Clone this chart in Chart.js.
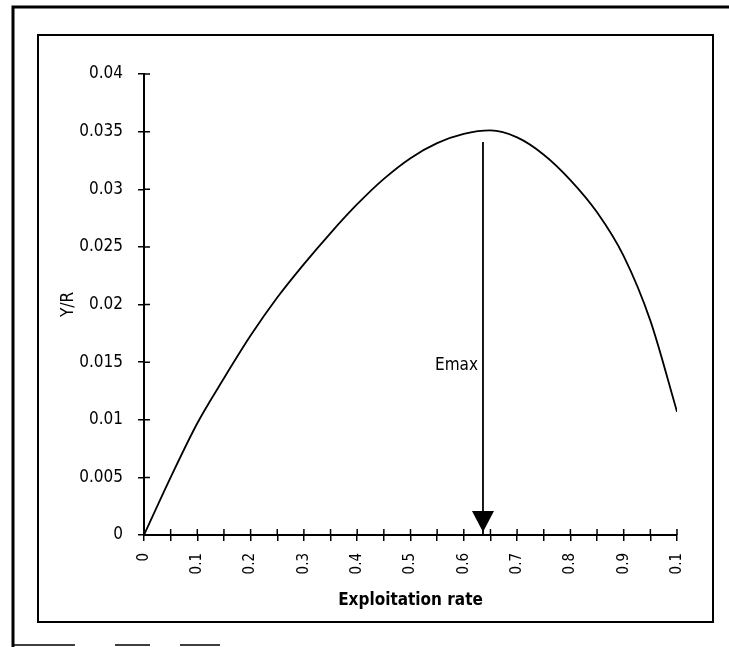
<!DOCTYPE html>
<html>
<head>
<meta charset="utf-8">
<script src="https://cdn.jsdelivr.net/npm/chart.js@4.4.1/dist/chart.umd.min.js"></script>
<style>
    html, body { margin: 0; padding: 0; background: #fff; }
    #wrap { width: 729px; height: 647px; }
</style>
</head>
<body>
<div id="wrap"><canvas id="chart" width="729" height="647"></canvas></div>
<script>
// Data
const exploitationRate = [0, 0.05, 0.1, 0.15, 0.2, 0.25, 0.3, 0.35, 0.4, 0.45, 0.5,
                          0.55, 0.6, 0.65, 0.7, 0.75, 0.8, 0.85, 0.9, 0.95, 1.0];
const yieldPerRecruit = [0, 0.0050, 0.0097, 0.0136, 0.0173, 0.0206, 0.0235, 0.0262, 0.0287, 0.0309, 0.0327,
                         0.0340, 0.0348, 0.0351, 0.0345, 0.0330, 0.0308, 0.0280, 0.0242, 0.0186, 0.0107];
// the last label really says "0.1" in the original
const xTickLabels = ['0', '0.1', '0.2', '0.3', '0.4', '0.5', '0.6', '0.7', '0.8', '0.9', '0.1'];
const yTickLabels = ['0', '0.005', '0.01', '0.015', '0.02', '0.025', '0.03', '0.035', '0.04'];
const emaxRate = [0.636];
const emaxRange = [0.0341, 0];

const FONT = "'DejaVu Sans', 'Liberation Sans', sans-serif";

/**
 * Frames around the figure + the inward half of the "+" ticks + arrow head
 */
const decorPlugin = {
    id: 'decor',
    beforeDraw(chart) {
        const ctx = chart.ctx;
        ctx.save();
        ctx.strokeStyle = '#000';
        // outer frame
        ctx.lineWidth = 3;
        ctx.beginPath();
        ctx.moveTo(13, 647);
        ctx.lineTo(13, 7);
        ctx.lineTo(729, 7);
        ctx.stroke();
        ctx.lineWidth = 1.5;
        ctx.beginPath();
        ctx.moveTo(13, 645);
        ctx.lineTo(75, 645);
        ctx.moveTo(115, 645);
        ctx.lineTo(150, 645);
        ctx.moveTo(180, 645);
        ctx.lineTo(220, 645);
        ctx.stroke();
        // inner frame
        ctx.lineWidth = 2;
        ctx.strokeRect(38, 35, 675, 587);
        ctx.restore();
    },
    afterDraw(chart) {
        const ctx = chart.ctx;
        const x = chart.scales.x;
        const y = chart.scales.y;
        const axisY = y.getPixelForValue(0);
        const axisX = x.getPixelForValue(0);
        ctx.save();
        ctx.strokeStyle = '#000';
        ctx.lineWidth = 1.5;
        ctx.beginPath();
        x.ticks.forEach(t => {
            const px = x.getPixelForValue(t.value);
            ctx.moveTo(px, axisY);
            ctx.lineTo(px, axisY - 6);
        });
        y.ticks.forEach(t => {
            const py = y.getPixelForValue(t.value);
            ctx.moveTo(axisX, py);
            ctx.lineTo(axisX + 6, py);
        });
        ctx.stroke();

        // arrow head at Emax
        const ax = x.getPixelForValue(emaxRate[0]);
        const tip = y.getPixelForValue(emaxRange[1]) - 3;
        ctx.fillStyle = '#000';
        ctx.beginPath();
        ctx.moveTo(ax, tip);
        ctx.lineTo(ax - 11, tip - 21);
        ctx.lineTo(ax + 11, tip - 21);
        ctx.closePath();
        ctx.fill();

        // Emax label
        const labelY = y.getPixelForValue(0.0147);
        ctx.font = "condensed 17px " + FONT;
        ctx.textAlign = 'right';
        ctx.textBaseline = 'middle';
        ctx.fillText('Emax', ax - 5, labelY);
        ctx.restore();
    }
};

const ctx = document.getElementById('chart').getContext('2d');
new Chart(ctx, {
    type: 'line',
    data: {
        datasets: [{
            label: 'Y/R',
            data: exploitationRate.map((e, i) => ({ x: e, y: yieldPerRecruit[i] })),
            borderColor: '#000',
            borderWidth: 1.8,
            pointRadius: 0,
            cubicInterpolationMode: 'monotone',
            fill: false
        }, {
            label: 'Emax',
            data: emaxRange.map(v => ({ x: emaxRate[0], y: v })),
            borderColor: '#000',
            borderWidth: 1.8,
            pointRadius: 0,
            fill: false
        }]
    },
    options: {
        responsive: false,
        animation: false,
        devicePixelRatio: 1,
        layout: {
            padding: { left: 58, top: 74, right: 52, bottom: 32 }
        },
        plugins: {
            legend: { display: false },
            tooltip: { enabled: false }
        },
        scales: {
            x: {
                type: 'linear',
                min: 0,
                max: 1,
                afterFit: (scale) => { scale.height = 80; },
                ticks: {
                    stepSize: 0.05,
                    autoSkip: false,
                    minRotation: 90,
                    maxRotation: 90,
                    padding: 12,
                    color: '#000',
                    font: { family: FONT, size: 15, weight: 'condensed' },
                    callback: function(value, index) {
                        return index % 2 === 0 ? xTickLabels[index / 2] : '';
                    }
                },
                grid: {
                    drawOnChartArea: false,
                    color: '#000',
                    lineWidth: 1.5,
                    tickLength: 6
                },
                border: { color: '#000', width: 2 },
                title: {
                    display: true,
                    text: 'Exploitation rate',
                    color: '#000',
                    font: { family: FONT, size: 17, weight: 'bold condensed' },
                    padding: { top: 0, bottom: 4 }
                }
            },
            y: {
                min: 0,
                max: 0.04,
                afterFit: (scale) => { scale.width = 86; },
                ticks: {
                    stepSize: 0.005,
                    padding: 15,
                    color: '#000',
                    font: { family: FONT, size: 17, weight: 'condensed' },
                    callback: function(value, index) {
                        return yTickLabels[index];
                    }
                },
                grid: {
                    drawOnChartArea: false,
                    color: '#000',
                    lineWidth: 1.5,
                    tickLength: 6
                },
                border: { color: '#000', width: 2 },
                title: {
                    display: true,
                    text: 'Y/R',
                    color: '#000',
                    font: { family: FONT, size: 17, weight: 'condensed' },
                    padding: 0
                }
            }
        }
    },
    plugins: [decorPlugin]
});
</script>
</body>
</html>
